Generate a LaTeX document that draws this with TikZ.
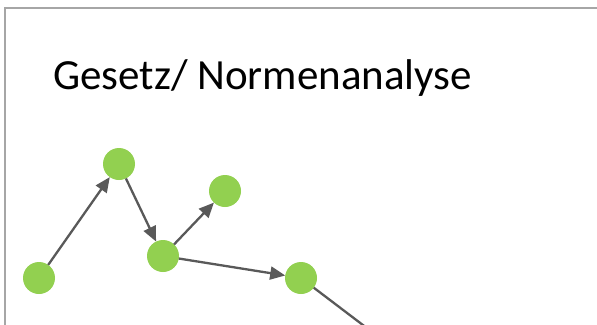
\documentclass[tikz,border=0pt]{standalone}
\usepackage{fontspec}
\setmainfont{Carlito}
\usetikzlibrary{arrows.meta}
\definecolor{knotgruen}{HTML}{92D050}
\definecolor{pfeilgrau}{HTML}{595959}
\definecolor{randgrau}{HTML}{A6A6A6}
\tikzset{
  knoten/.style={circle,fill=knotgruen,minimum size=32pt,inner sep=0pt,outer sep=0pt},
  kante/.style={draw=pfeilgrau,line width=2.3pt,-{Triangle[length=15pt,width=13pt]}},
}
\begin{document}
\begin{tikzpicture}[x=1pt,y=-1pt]
	\useasboundingbox (0,0) rectangle (597,324);
	\clip (0,0) rectangle (597,324);
	\draw[randgrau,line width=2.5pt] (5,340) -- (5,8) -- (620,8);
	\node[anchor=base west,inner sep=0pt,font=\fontsize{43}{50}\selectfont] (titel) at (53,89) {Gesetz/ Normenanalyse};

	\node[knoten] (A) at (39,278) {};
	\node[knoten] (B) at (119,164) {};
	\node[knoten] (C) at (163,256) {};
	\node[knoten] (D) at (225,191) {};
	\node[knoten] (E) at (301,278) {};
	\coordinate (F) at (380,338);

	\draw[kante] (A) -- (B);
	\draw[kante] (B) -- (C);
	\draw[kante] (C) -- (D);
	\draw[kante] (C) -- (E);
	\draw[kante,-] (E) -- (F);
\end{tikzpicture}
\end{document}
